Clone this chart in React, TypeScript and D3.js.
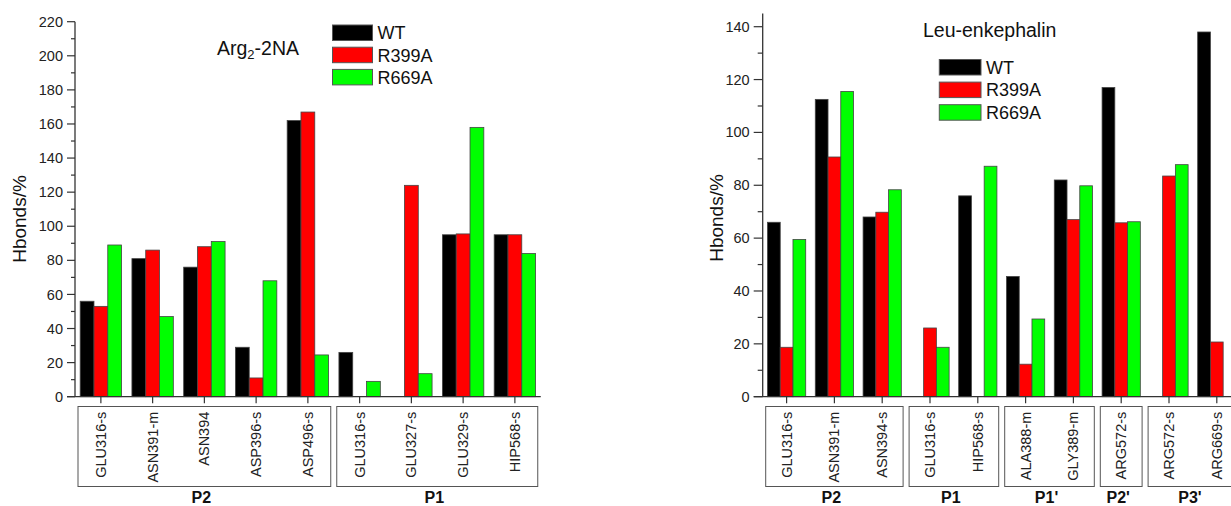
import React, { useEffect, useRef } from 'react';
import * as d3 from 'd3';

// series names + colours
const seriesNames = ['WT', 'R399A', 'R669A'];
const seriesColors = ['#000000', '#ff0000', '#00ff00'];

// left panel: Arg2-2NA
const leftCategories = ['GLU316-s', 'ASN391-m', 'ASN394', 'ASP396-s', 'ASP496-s', 'GLU316-s', 'GLU327-s', 'GLU329-s', 'HIP568-s'];
const leftWT = [56, 81, 76, 29, 162, 26, 0, 95, 95];
const leftR399A = [53, 86, 88, 11, 167, 0, 124, 95.5, 95];
const leftR669A = [89, 47, 91, 68, 24.5, 9, 13.5, 158, 84];
const leftGroups = [{ name: 'P2', from: 0, to: 4 }, { name: 'P1', from: 5, to: 8 }];
const leftTicks = [0, 20, 40, 60, 80, 100, 120, 140, 160, 180, 200, 220];

// right panel: Leu-enkephalin
const rightCategories = ['GLU316-s', 'ASN391-m', 'ASN394-s', 'GLU316-s', 'HIP568-s', 'ALA388-m', 'GLY389-m', 'ARG572-s', 'ARG572-s', 'ARG669-s'];
const rightWT = [66, 112.5, 68, 0, 76, 45.5, 82, 117, 0, 138];
const rightR399A = [18.7, 90.7, 69.8, 26, 0, 12.3, 67, 65.8, 83.5, 20.7];
const rightR669A = [59.5, 115.5, 78.3, 18.7, 87.2, 29.4, 79.8, 66.2, 87.8, 0];
const rightGroups = [
  { name: 'P2', from: 0, to: 2 },
  { name: 'P1', from: 3, to: 4 },
  { name: "P1'", from: 5, to: 6 },
  { name: "P2'", from: 7, to: 7 },
  { name: "P3'", from: 8, to: 9 },
];
const rightTicks = [0, 20, 40, 60, 80, 100, 120, 140];

const FONT = 'Arial, "Liberation Sans", Helvetica, sans-serif';

function drawPanel(svg, cfg) {
  const g = svg.append('g');
  const n = cfg.categories.length;
  const x = d3.scaleBand().domain(d3.range(n)).range([cfg.x0, cfg.x0 + cfg.step * n]).padding(0);
  const y = d3.scaleLinear().domain([0, cfg.yMax]).range([cfg.y0, cfg.yTop]);
  const step = x.bandwidth();
  const barW = step * 0.8 / 3;
  const series = [cfg.wt, cfg.r399, cfg.r669];

  // bars
  series.forEach((vals, si) => {
    g.append('g')
      .selectAll('rect')
      .data(vals)
      .join('rect')
      .attr('x', (d, i) => x(i) + step * 0.1 + si * barW)
      .attr('y', (d) => y(d))
      .attr('width', barW)
      .attr('height', (d) => y(0) - y(d))
      .attr('fill', seriesColors[si])
      .attr('stroke', (d) => (d > 0 ? '#444' : 'none'))
      .attr('stroke-width', 0.8);
  });

  // y axis
  const axisColor = '#333';
  g.append('line')
    .attr('x1', cfg.x0).attr('x2', cfg.x0)
    .attr('y1', y(0)).attr('y2', y(cfg.axisTop))
    .attr('stroke', axisColor).attr('stroke-width', 1.3);
  const minor = d3.range(0, cfg.yMax + 0.1, 10);
  g.append('g').selectAll('line').data(minor).join('line')
    .attr('x1', cfg.x0).attr('x2', (d) => cfg.x0 - (d % 20 === 0 ? cfg.majorLen : cfg.minorLen))
    .attr('y1', (d) => y(d)).attr('y2', (d) => y(d))
    .attr('stroke', axisColor).attr('stroke-width', 1.2);
  g.append('g').selectAll('text').data(cfg.ticks).join('text')
    .attr('x', cfg.x0 - cfg.majorLen - 4)
    .attr('y', (d) => y(d))
    .attr('dy', '0.35em')
    .attr('text-anchor', 'end')
    .style('font-size', '14.5px')
    .style('fill', '#222')
    .text((d) => d);

  // y label
  g.append('text')
    .attr('transform', `translate(${cfg.yLabelX},${cfg.yLabelY}) rotate(-90)`)
    .attr('text-anchor', 'middle')
    .attr('dy', '0.35em')
    .style('font-size', '19px')
    .style('fill', '#111')
    .text('Hbonds/%');

  // x axis
  g.append('line')
    .attr('x1', cfg.x0 - cfg.majorLen).attr('x2', cfg.x0 + step * n)
    .attr('y1', y(0)).attr('y2', y(0))
    .attr('stroke', axisColor).attr('stroke-width', 1.3);
  g.append('g').selectAll('line').data(d3.range(n)).join('line')
    .attr('x1', (i) => x(i) + step / 2).attr('x2', (i) => x(i) + step / 2)
    .attr('y1', y(0)).attr('y2', y(0) + 6.5)
    .attr('stroke', axisColor).attr('stroke-width', 1.2);
  g.append('g').selectAll('text').data(cfg.categories).join('text')
    .attr('transform', (d, i) => `translate(${x(i) + step / 2},${y(0) + 15}) rotate(-90)`)
    .attr('text-anchor', 'end')
    .attr('dy', '0.35em')
    .style('font-size', '14.5px')
    .style('fill', '#222')
    .text((d) => d);

  // group boxes
  cfg.groups.forEach((gr) => {
    const left = x(gr.from) + 3;
    const right = x(gr.to) + step - 3;
    g.append('rect')
      .attr('x', left).attr('y', 406.5)
      .attr('width', right - left).attr('height', 80)
      .attr('fill', 'none').attr('stroke', '#555').attr('stroke-width', 1);
    g.append('text')
      .attr('x', (left + right) / 2 - 3)
      .attr('y', 503)
      .attr('text-anchor', 'middle')
      .style('font-size', '16px')
      .style('font-weight', 'bold')
      .style('fill', '#111')
      .text(gr.name);
  });

  // legend
  seriesNames.forEach((s, si) => {
    const ly = cfg.legY + si * cfg.legStep;
    g.append('rect')
      .attr('x', cfg.legX).attr('y', ly)
      .attr('width', cfg.legW).attr('height', 15.5)
      .attr('fill', seriesColors[si]).attr('stroke', '#555').attr('stroke-width', 1);
    g.append('text')
      .attr('x', cfg.legX + cfg.legW + 5)
      .attr('y', ly + 8)
      .attr('dy', '0.35em')
      .style('font-size', '18px')
      .style('fill', '#111')
      .text(s);
  });

  // title
  const t = g.append('text')
    .attr('x', cfg.titleX).attr('y', cfg.titleY)
    .style('font-size', '19.5px')
    .style('fill', '#111');
  cfg.title.forEach((part) => {
    t.append('tspan')
      .attr('baseline-shift', part.sub ? '-30%' : null)
      .style('font-size', part.sub ? '13px' : null)
      .text(part.text);
  });
}

export default function App() {
  const ref = useRef(null);
  useEffect(() => {
    const svg = d3.select(ref.current);
    svg.selectAll('*').remove();
    svg.style('font-family', FONT);

    drawPanel(svg, {
      categories: leftCategories, wt: leftWT, r399: leftR399A, r669: leftR669A,
      groups: leftGroups, ticks: leftTicks,
      x0: 75, step: 51.75, y0: 396.7, yTop: 21.7, yMax: 220, axisTop: 220,
      majorLen: 8, minorLen: 4,
      yLabelX: 19, yLabelY: 219,
      legX: 332.5, legY: 25, legStep: 22.2, legW: 40,
      titleX: 217, titleY: 55,
      title: [{ text: 'Arg' }, { text: '2', sub: true }, { text: '-2NA' }],
    });

    drawPanel(svg, {
      categories: rightCategories, wt: rightWT, r399: rightR399A, r669: rightR669A,
      groups: rightGroups, ticks: rightTicks,
      x0: 762.7, step: 47.8, y0: 396.7, yTop: 26.7, yMax: 140, axisTop: 145,
      majorLen: 9, minorLen: 5,
      yLabelX: 716, yLabelY: 218,
      legX: 939.3, legY: 59.5, legStep: 22.6, legW: 41.7,
      titleX: 923, titleY: 37,
      title: [{ text: 'Leu-enkephalin' }],
    });
  }, []);

  return (
    <svg
      ref={ref}
      width={1231}
      height={506}
      style={{ position: 'absolute', left: 0, top: 0, background: '#fff', overflow: 'hidden' }}
    />
  );
}
